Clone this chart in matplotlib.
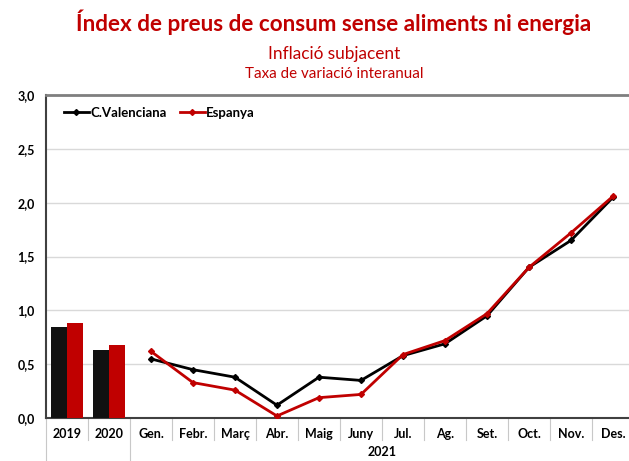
import numpy as np
import matplotlib
matplotlib.use("Agg")
from matplotlib import pyplot as plt

plt.rcParams['font.family'] = ['Lato', 'DejaVu Sans']

RED = '#C00000'

years = ["2019", "2020"]
bars_cv = [0.85, 0.63]
bars_es = [0.88, 0.68]

months = ["Gen.", "Febr.", "Març", "Abr.", "Maig", "Juny", "Jul.", "Ag.", "Set.", "Oct.", "Nov.", "Des."]
line_cv = [0.55, 0.45, 0.38, 0.12, 0.38, 0.35, 0.58, 0.69, 0.95, 1.40, 1.65, 2.05]
line_es = [0.62, 0.33, 0.26, 0.02, 0.19, 0.22, 0.59, 0.72, 0.97, 1.40, 1.72, 2.06]

labels = years + months
xs = np.arange(len(labels))
bx = xs[:len(years)]
mx = xs[len(years):]

fig = plt.figure(figsize=(6.29, 4.61), dpi=100)
ax = fig.add_axes([0.073, 0.093, 0.935, 0.701])

w = 0.38
ax.bar(bx - w / 2 - 0.01, bars_cv, width=w, color='#111111', zorder=3)
ax.bar(bx + w / 2 + 0.01, bars_es, width=w, color=RED, zorder=3)

ax.plot(mx, line_cv, color='black', lw=2, marker='D', ms=3, label='C.Valenciana', zorder=4)
ax.plot(mx, line_es, color=RED, lw=2, marker='D', ms=3, label='Espanya', zorder=5)

ax.set_xlim(-0.5, len(labels) - 0.5)
ax.set_ylim(0, 3.0)
ax.set_yticks(np.arange(0, 3.01, 0.5))
ax.set_yticklabels([f"{v:.1f}".replace('.', ',') for v in np.arange(0, 3.01, 0.5)],
                   fontsize=9, fontweight='bold')
ax.yaxis.grid(True, color='#d9d9d9', lw=1, zorder=0)
ax.tick_params(axis='y', length=0, pad=8)

ax.set_xticks(xs)
ax.set_xticklabels(labels, fontsize=9, fontweight='bold')
ax.tick_params(axis='x', length=0, pad=7)

ax.spines['right'].set_visible(False)
ax.spines['top'].set_color('#7f7f7f')
ax.spines['top'].set_linewidth(2)
ax.spines['left'].set_color('#404040')
ax.spines['left'].set_linewidth(1.5)
ax.spines['bottom'].set_color('#404040')
ax.spines['bottom'].set_linewidth(1.5)

# separators under the axis
trans = ax.get_xaxis_transform()
for b in np.arange(-0.5, len(labels) - 0.4, 1.0):
    low = -0.135 if b in (-0.5, 1.5) else -0.068
    ax.plot([b, b], [0, low], color='#c8c8c8', lw=0.8, transform=trans, clip_on=False)

ax.text(mx.mean(), -0.105, "2021", transform=trans, ha='center', va='center',
        fontsize=9, fontweight='bold')

ax.legend(loc='upper left', bbox_to_anchor=(0.01, 1.0), ncol=2, frameon=False,
          prop={'size': 9.5, 'weight': 'bold'}, handlelength=1.9, handletextpad=0.1,
          columnspacing=1.0)

fig.text(0.531, 0.933, "Índex de preus de consum sense aliments ni energia", ha='center',
         va='baseline', color=RED, fontsize=16.2, fontweight='bold')
fig.text(0.531, 0.872, "Inflació subjacent", ha='center', va='baseline', color=RED, fontsize=12.4)
fig.text(0.531, 0.831, "Taxa de variació interanual", ha='center', va='baseline', color=RED,
         fontsize=10.9)

fig.savefig('out.png', dpi=100)
